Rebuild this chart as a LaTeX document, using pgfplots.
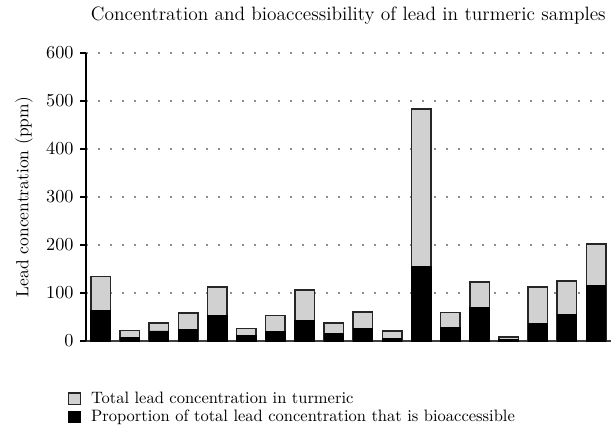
\documentclass[border=0pt]{standalone}
\usepackage{fontspec}
\usepackage{pgfplots}
\pgfplotsset{compat=1.18}
\definecolor{bargray}{RGB}{209,209,209}
\definecolor{dotgray}{RGB}{140,140,140}
\begin{document}
\begin{tikzpicture}
\path[use as bounding box] (-51.6pt,-54.6pt) rectangle (317.4pt,204.6pt);
\begin{axis}[
  at={(0,0)}, anchor=south west,
  scale only axis,
  width=314.8pt, height=172.8pt,
  xmin=-0.5, xmax=17.5,
  ymin=0, ymax=600,
  ytick={0,100,...,600},
  xtick=\empty,
  axis x line*=bottom,
  axis y line*=left,
  x axis line style={draw=black!75, line width=0.9pt},
  y axis line style={draw=black, line width=0.8pt},
  tick align=outside,
  major tick length=3.4pt,
  ytick style={draw=black, line width=0.8pt},
  ymajorgrids,
  major grid style={draw=dotgray, line width=1.1pt, dash pattern=on 1.1pt off 6.1pt},
  tick label style={font=\fontsize{11.2}{13}\selectfont},
  yticklabel style={xshift=-0.5pt},
  ylabel={Lead concentration (ppm)},
  y label style={at={(axis description cs:-0.118,0.5)}, anchor=center, font=\fontsize{10.5}{12}\selectfont},
  title={Concentration and bioaccessibility of lead in turmeric samples},
  title style={at={(axis description cs:0.5,1.135)}, anchor=center, yshift=-6.8pt, font=\fontsize{11.6}{14}\selectfont},
  legend style={draw=none, fill=none, at={(axis description cs:-0.035,-0.164)}, anchor=north west,
    font=\fontsize{9.9}{11}\selectfont, row sep=-1.5pt, column sep=4pt, inner sep=0pt},
  legend cell align=left,
  legend image code/.code={\draw[#1, bar shift=0pt] (0pt,-3.4pt) rectangle (7pt,3.4pt);},
]
\addplot[ybar, bar width=11.7pt, bar shift=0pt, fill=bargray, draw=black!85, line width=0.9pt]
  coordinates {(0,134) (1,22) (2,38) (3,58) (4,113) (5,26) (6,53) (7,106) (8,37) (9,60) (10,21) (11,483) (12,59) (13,123) (14,8) (15,112) (16,125) (17,202)};
\addlegendentry{Total lead concentration in turmeric}
\addplot[ybar, bar width=11.7pt, bar shift=0pt, fill=black, draw=black, line width=0.5pt]
  coordinates {(0,64) (1,8) (2,21) (3,25) (4,53) (5,12) (6,20) (7,42) (8,15) (9,26) (10,6) (11,156) (12,29) (13,70) (14,4) (15,37) (16,56) (17,115)};
\addlegendentry{Proportion of total lead concentration that is bioaccessible}
\end{axis}
\end{tikzpicture}
\end{document}
